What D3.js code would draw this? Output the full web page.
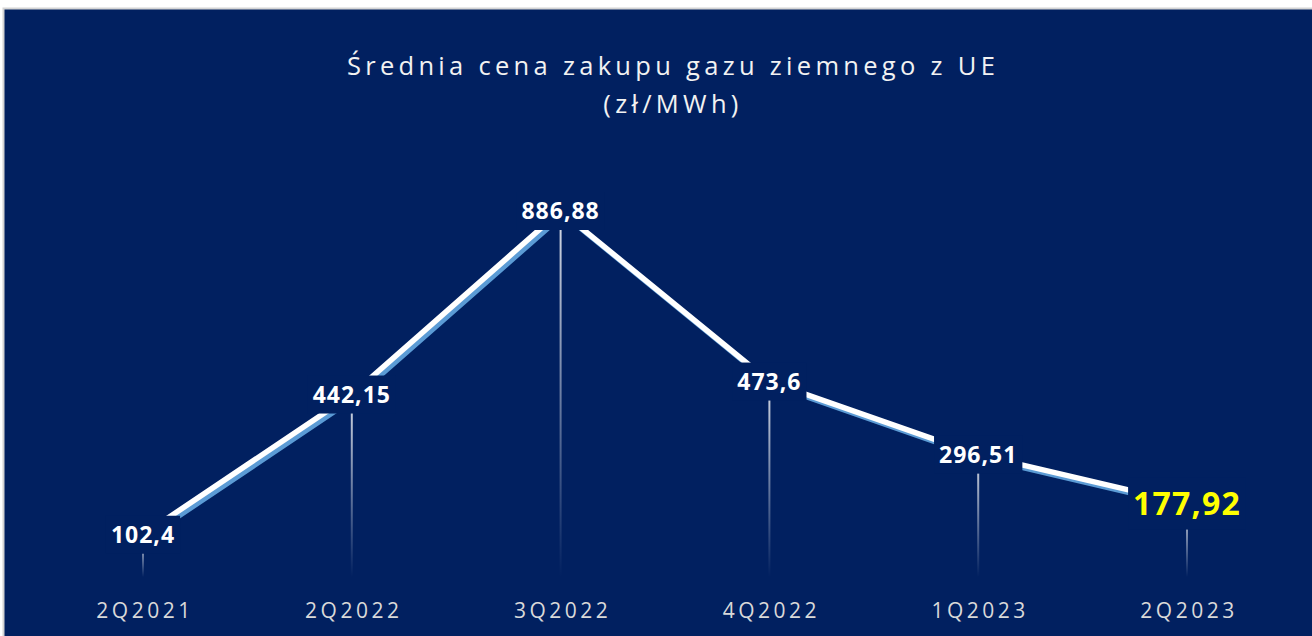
<!DOCTYPE html>
<html>
<head>
<meta charset="utf-8">
<script src="https://cdn.jsdelivr.net/npm/d3@7"></script>
<style>
  html, body { margin: 0; padding: 0; background: #fff; }
  svg { display: block; }
</style>
</head>
<body>
<svg id="chart" width="1312" height="636"></svg>
<script>
// data
const quarters = ["2Q2021", "2Q2022", "3Q2022", "4Q2022", "1Q2023", "2Q2023"];
const prices = [102.4, 442.15, 886.88, 473.6, 296.51, 177.92];
const priceLabels = ["102,4", "442,15", "886,88", "473,6", "296,51", "177,92"];
const titleLines = ["Średnia cena zakupu gazu ziemnego z UE", "(zł/MWh)"];

const navy = "#012060";
const svg = d3.select("#chart");

// panel
svg.append("rect")
  .attr("x", 3.5).attr("y", 8.5)
  .attr("width", 1320).attr("height", 640)
  .attr("fill", navy)
  .attr("stroke", "#d4d4d4")
  .attr("stroke-width", 2);

var x = d3.scalePoint().domain(quarters).range([143, 1187]);
var y = d3.scaleLinear().domain([0, 886.88]).range([577, 211]);

// title
svg.append("g")
  .selectAll("text")
  .data(titleLines)
  .join("text")
  .attr("x", 673)
  .attr("y", (d, i) => 75 + i * 38)
  .attr("text-anchor", "middle")
  .attr("font-family", "Open Sans")
  .attr("font-size", 25.5)
  .attr("letter-spacing", "4.3px")
  .attr("fill", "#f2f2f2")
  .text((d) => d);

// gradient for the drop lines
var defs = svg.append("defs");
var grad = defs.append("linearGradient")
  .attr("id", "drop")
  .attr("x1", 0).attr("y1", 0).attr("x2", 0).attr("y2", 1);
grad.append("stop").attr("offset", "0%").attr("stop-color", "#ffffff").attr("stop-opacity", 0.85);
grad.append("stop").attr("offset", "100%").attr("stop-color", "#ffffff").attr("stop-opacity", 0);

svg.append("g")
  .selectAll("rect")
  .data(quarters)
  .join("rect")
  .attr("x", (d) => x(d) - 1)
  .attr("y", (d, i) => y(prices[i]))
  .attr("width", 2)
  .attr("height", (d, i) => y(0) - y(prices[i]))
  .attr("fill", "url(#drop)");

// ribbon line: blue side then white top
var line = d3.line()
  .x((d, i) => x(quarters[i]))
  .y((d) => y(d));

svg.append("path")
  .datum(prices)
  .attr("d", line)
  .attr("transform", "translate(3,3.5)")
  .attr("fill", "none")
  .attr("stroke", "#5b9bd5")
  .attr("stroke-width", 5);

svg.append("path")
  .datum(prices)
  .attr("d", line)
  .attr("fill", "none")
  .attr("stroke", "#ffffff")
  .attr("stroke-width", 5.5);

// value labels with navy boxes
var labels = svg.append("g")
  .selectAll("g")
  .data(quarters)
  .join("g")
  .attr("transform", (d, i) => "translate(" + x(d) + "," + y(prices[i]) + ")");

labels.append("text")
  .attr("text-anchor", "middle")
  .attr("dy", (d, i) => (i == 5 ? 11 : 8))
  .attr("font-family", "Open Sans")
  .attr("font-weight", "bold")
  .attr("font-size", (d, i) => (i == 5 ? 32 : 23))
  .attr("letter-spacing", (d, i) => (i == 5 ? "1.2px" : "1px"))
  .attr("fill", (d, i) => (i == 5 ? "#ffff00" : "#ffffff"))
  .text((d, i) => priceLabels[i]);

labels.each(function (d, i) {
  var g = d3.select(this);
  var bb = g.select("text").node().getBBox();
  var half = i == 5 ? 26 : 19;
  g.insert("rect", "text")
    .attr("x", bb.x - 5)
    .attr("y", -half)
    .attr("width", bb.width + 10)
    .attr("height", half * 2)
    .attr("fill", navy);
});

// category labels
svg.append("g")
  .selectAll("text")
  .data(quarters)
  .join("text")
  .attr("x", (d) => x(d) + 2)
  .attr("y", 618)
  .attr("text-anchor", "middle")
  .attr("font-family", "Open Sans")
  .attr("font-size", 21)
  .attr("letter-spacing", "3.5px")
  .attr("fill", "#d9d9d9")
  .text((d) => d);
</script>
</body>
</html>
